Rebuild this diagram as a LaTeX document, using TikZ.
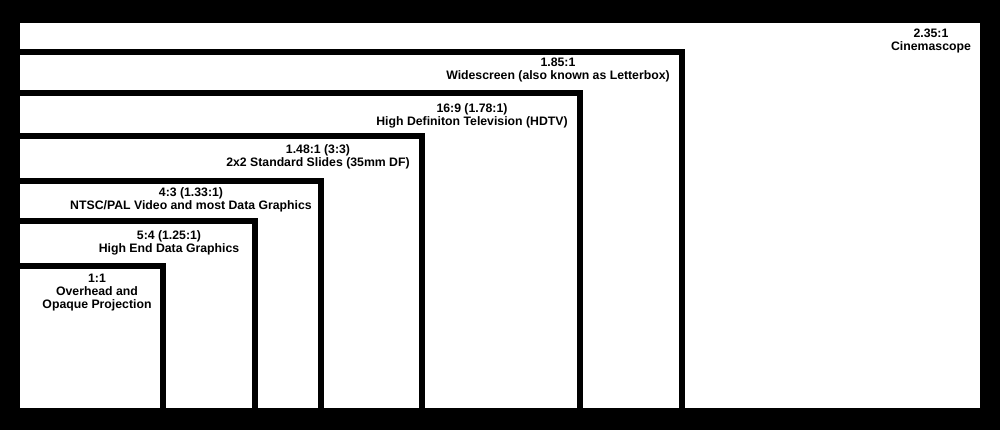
\documentclass[tikz,border=0pt]{standalone}
\usepackage{fontspec}
\setmainfont{Liberation Sans}
\begin{document}
\begin{tikzpicture}[x=0.75pt,y=-0.75pt,
  frame/.style={line width=4.5pt, draw=black, line join=miter},
  lbl/.style={font=\bfseries\fontsize{9.2}{9.6}\selectfont, align=center, inner sep=0pt, text=black}]
\useasboundingbox (0,0) rectangle (1000,430);
\fill[black] (0,0) rectangle (1000,430);
\fill[white] (20,23) rectangle (980,408);
% nested aspect-ratio frames (top and right edges)
\draw[frame] (16,51.5) -| (682,412);
\draw[frame] (16,92.5) -| (580,412);
\draw[frame] (16,136) -| (422,412);
\draw[frame] (16,181) -| (321,412);
\draw[frame] (16,221) -| (254.5,412);
\draw[frame] (16,266) -| (163,412);
% labels
\node[lbl] (l235) at (931,41) {2.35:1\\Cinemascope};
\node[lbl] (l185) at (558,70) {1.85:1\\Widescreen (also known as Letterbox)};
\node[lbl] (l169) at (472,115.5) {16:9 (1.78:1)\\High Definiton Television (HDTV)};
\node[lbl] (l148) at (318,157) {1.48:1 (3:3)\\2x2 Standard Slides (35mm DF)};
\node[lbl] (l43) at (191,199.5) {4:3 (1.33:1)\\NTSC/PAL Video and most Data Graphics};
\node[lbl] (l54) at (169,242.5) {5:4 (1.25:1)\\High End Data Graphics};
\node[lbl] (l11) at (97,292.5) {1:1\\Overhead and\\Opaque Projection};
\end{tikzpicture}
\end{document}
